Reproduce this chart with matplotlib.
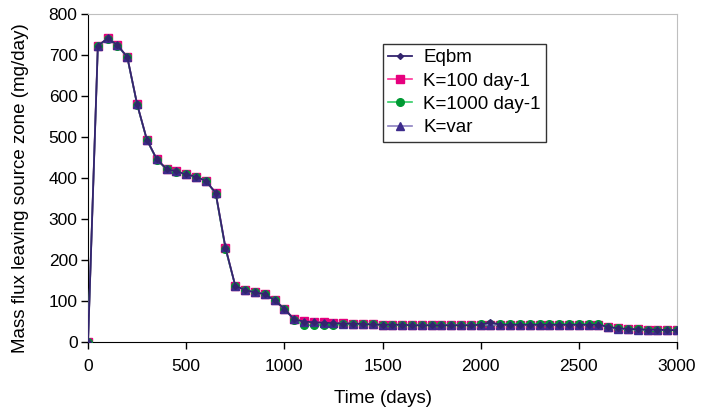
import numpy as np
import matplotlib.pyplot as plt

plt.rcParams['font.family'] = ['Liberation Sans', 'DejaVu Sans']

days = list(range(0, 3001, 50))

eqbm = [0, 722, 741, 724, 695, 580, 493, 446, 422, 416,
        409, 403, 393, 364, 230, 137, 127, 121, 117, 102,
        81, 55, 50, 48, 47, 46, 45, 45, 44, 43,
        42, 42, 42, 41, 41, 41, 41, 41, 41, 41,
        42, 48, 42, 42, 42, 42, 42, 42, 42, 42,
        42, 42, 42, 37, 33, 32, 31, 30, 30, 29,
        29]

k100 = [0, 722, 741, 724, 695, 580, 493, 446, 422, 416,
        409, 403, 393, 364, 230, 137, 127, 121, 117, 102,
        81, 56, 52, 50, 48, 47, 46, 45, 44, 43,
        42, 42, 42, 41, 41, 41, 41, 41, 41, 41,
        42, 42, 42, 42, 42, 42, 42, 42, 42, 42,
        42, 42, 42, 37, 33, 32, 31, 30, 30, 29,
        29]

k1000 = [0, 721, 740, 723, 694, 579, 492, 445, 421, 415,
         409, 403, 393, 362, 227, 137, 127, 121, 117, 102,
         81, 54, 41, 41, 42, 42, 43, 43, 43, 43,
         42, 42, 42, 42, 42, 42, 42, 42, 42, 42,
         43, 44, 44, 44, 44, 44, 44, 44, 44, 44,
         44, 44, 43, 37, 33, 32, 31, 30, 30, 29,
         29]

kvar = [0, 722, 741, 724, 695, 580, 493, 446, 422, 416,
        409, 403, 393, 364, 231, 137, 127, 121, 117, 102,
        81, 55, 50, 48, 47, 46, 45, 45, 44, 43,
        42, 42, 42, 41, 41, 41, 41, 41, 41, 41,
        42, 42, 41, 41, 41, 41, 41, 41, 41, 41,
        41, 41, 41, 36, 32, 31, 30, 30, 29, 29,
        29]

fig = plt.figure(figsize=(7.02, 4.18), dpi=100)
ax = fig.add_axes([0.1254, 0.1818, 0.8390, 0.7847])

ax.plot(days, k100, color='#FF3399', lw=1.2, marker='s', ms=5.5,
        mfc='#E6007E', mec='#E6007E', label='K=100 day-1', zorder=2)
ax.plot(days, k1000, color='#33CC66', lw=1.2, marker='o', ms=5.5,
        mfc='#009933', mec='#009933', label='K=1000 day-1', zorder=3)
ax.plot(days, kvar, color='#8C80C0', lw=1.2, marker='^', ms=6,
        mfc='#3D2B8C', mec='#3D2B8C', label='K=var', zorder=4)
ax.plot(days, eqbm, color='#33246E', lw=1.3, marker='D', ms=3,
        mfc='#33246E', mec='#33246E', label='Eqbm', zorder=5)

ax.set_xlim(0, 3000)
ax.set_ylim(0, 800)
ax.set_xticks(np.arange(0, 3001, 500))
ax.set_yticks(np.arange(0, 801, 100))
ax.tick_params(labelsize=12.5, direction='out', length=5, width=1, colors='black')
ax.tick_params(axis='x', pad=7)
ax.tick_params(axis='y', pad=2.5)

for s in ['top', 'right']:
    ax.spines[s].set_color('#BFBFBF')
for s in ['left', 'bottom']:
    ax.spines[s].set_color('black')

ax.set_xlabel('Time (days)', fontsize=13.5)
ax.set_ylabel('Mass flux leaving source zone (mg/day)', fontsize=13.5)
ax.xaxis.set_label_coords(0.5, -0.146)
ax.yaxis.set_label_coords(-0.100, 0.468)

h, l = ax.get_legend_handles_labels()
order = [3, 0, 1, 2]
leg = ax.legend([h[i] for i in order], [l[i] for i in order],
                loc='upper left', bbox_to_anchor=(0.501, 0.9085),
                fontsize=13.5, frameon=True, fancybox=False,
                handlelength=1.25, handletextpad=0.6, labelspacing=0.33,
                borderpad=0.28, borderaxespad=0)
leg.get_frame().set_edgecolor('black')
leg.get_frame().set_linewidth(1)

fig.savefig('out.png', dpi=100)
